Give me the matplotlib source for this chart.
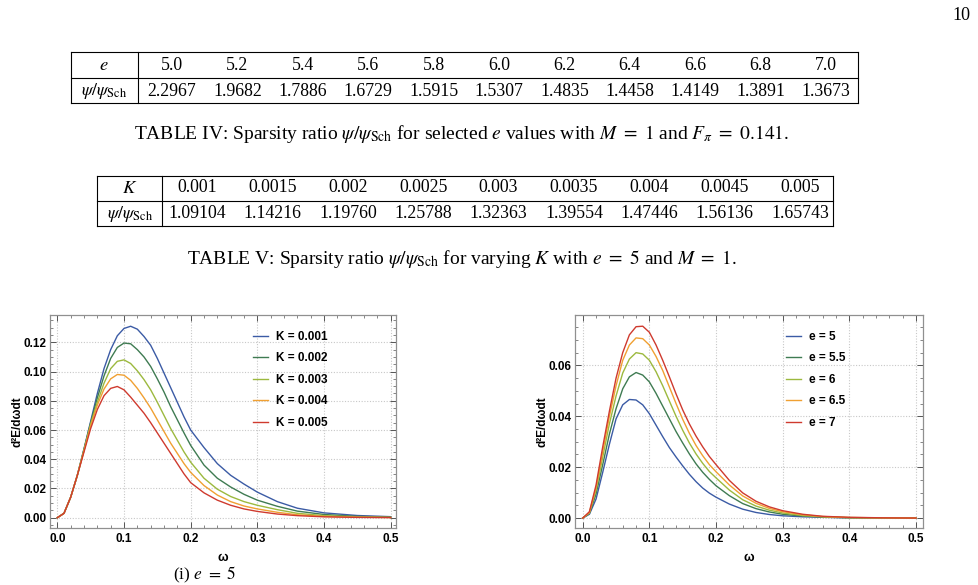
import numpy as np
import matplotlib
matplotlib.use("Agg")
import matplotlib.pyplot as plt
from matplotlib.lines import Line2D
from matplotlib.ticker import MultipleLocator, FormatStrFormatter

plt.rcParams['mathtext.fontset'] = 'stix'

# ---------------- data ----------------
e_vals = ["5.0", "5.2", "5.4", "5.6", "5.8", "6.0", "6.2", "6.4", "6.6", "6.8", "7.0"]
ratio_e = ["2.2967", "1.9682", "1.7886", "1.6729", "1.5915", "1.5307", "1.4835",
           "1.4458", "1.4149", "1.3891", "1.3673"]

k_vals = ["0.001", "0.0015", "0.002", "0.0025", "0.003", "0.0035", "0.004", "0.0045", "0.005"]
ratio_k = ["1.09104", "1.14216", "1.19760", "1.25788", "1.32363", "1.39554", "1.47446",
           "1.56136", "1.65743"]

omega = [0.00, 0.01, 0.02, 0.03, 0.04, 0.05, 0.06, 0.07, 0.08, 0.09, 0.10, 0.11, 0.12,
         0.13, 0.14, 0.15, 0.16, 0.17, 0.18, 0.19, 0.20, 0.22, 0.24, 0.26, 0.28, 0.30,
         0.33, 0.36, 0.40, 0.45, 0.50]

# panel (i): e = 5, varying K
k_labels = ["K = 0.001", "K = 0.002", "K = 0.003", "K = 0.004", "K = 0.005"]
k_curves = [
    [0, 0.003, 0.014, 0.029, 0.047, 0.066, 0.085, 0.102, 0.115, 0.1245, 0.1295, 0.131, 0.129,
     0.124, 0.118, 0.109, 0.099, 0.089, 0.079, 0.069, 0.060, 0.048, 0.037, 0.029, 0.023, 0.0175,
     0.011, 0.0065, 0.0033, 0.0015, 0.0007],
    [0, 0.003, 0.014, 0.029, 0.047, 0.065, 0.082, 0.097, 0.109, 0.1165, 0.1195, 0.119, 0.115,
     0.110, 0.1035, 0.095, 0.086, 0.076, 0.067, 0.058, 0.0495, 0.036, 0.027, 0.021, 0.016, 0.012,
     0.0078, 0.0045, 0.0022, 0.0009, 0.0004],
    [0, 0.003, 0.014, 0.029, 0.046, 0.064, 0.079, 0.092, 0.102, 0.107, 0.108, 0.1055, 0.1005,
     0.0945, 0.0875, 0.079, 0.070, 0.061, 0.053, 0.045, 0.038, 0.027, 0.0195, 0.0145, 0.011, 0.0085,
     0.0055, 0.003, 0.0014, 0.0005, 0.0002],
    [0, 0.003, 0.014, 0.029, 0.046, 0.063, 0.077, 0.088, 0.095, 0.098, 0.0975, 0.094, 0.0885,
     0.082, 0.075, 0.067, 0.059, 0.051, 0.044, 0.037, 0.031, 0.022, 0.0155, 0.011, 0.008, 0.006,
     0.0037, 0.002, 0.0009, 0.0003, 0.0001],
    [0, 0.003, 0.014, 0.029, 0.045, 0.061, 0.074, 0.0835, 0.0885, 0.0898, 0.0875, 0.0825, 0.077,
     0.0715, 0.065, 0.058, 0.051, 0.044, 0.037, 0.030, 0.024, 0.017, 0.012, 0.0085, 0.006, 0.0043,
     0.0025, 0.0014, 0.0006, 0.0002, 0.0001],
]

# panel (ii): varying e
e_labels = ["e = 5", "e = 5.5", "e = 6", "e = 6.5", "e = 7"]
e_curves = [
    [0, 0.0015, 0.0075, 0.018, 0.029, 0.039, 0.0445, 0.0466, 0.0464, 0.0445, 0.041, 0.0365, 0.032,
     0.0277, 0.024, 0.0205, 0.0172, 0.0143, 0.0118, 0.0098, 0.0082, 0.0055, 0.0035, 0.0022, 0.0014,
     0.0009, 0.0005, 0.0003, 0.0001, 0.00005, 0],
    [0, 0.0018, 0.0095, 0.021, 0.033, 0.043, 0.0508, 0.0555, 0.0572, 0.0562, 0.0535, 0.049, 0.044,
     0.039, 0.034, 0.0295, 0.0252, 0.0213, 0.018, 0.0152, 0.0127, 0.0088, 0.0057, 0.0037, 0.0024,
     0.0015, 0.0008, 0.0004, 0.0001, 0.00005, 0],
    [0, 0.002, 0.011, 0.024, 0.037, 0.048, 0.057, 0.0625, 0.065, 0.0645, 0.062, 0.0575, 0.052,
     0.046, 0.040, 0.0345, 0.0295, 0.0252, 0.0215, 0.0183, 0.0158, 0.011, 0.0072, 0.0047, 0.0031,
     0.002, 0.001, 0.0005, 0.0002, 0.0001, 0],
    [0, 0.0022, 0.012, 0.026, 0.040, 0.052, 0.062, 0.068, 0.0708, 0.0705, 0.068, 0.0635, 0.058,
     0.0515, 0.045, 0.0388, 0.0333, 0.0285, 0.0245, 0.021, 0.0182, 0.013, 0.0087, 0.0058, 0.0038,
     0.0025, 0.0013, 0.0006, 0.0002, 0.0001, 0],
    [0, 0.0025, 0.013, 0.028, 0.042, 0.055, 0.065, 0.072, 0.0752, 0.0754, 0.073, 0.068, 0.062,
     0.0555, 0.0488, 0.0425, 0.037, 0.0322, 0.028, 0.0242, 0.021, 0.0148, 0.0099, 0.0066, 0.0044,
     0.0029, 0.0015, 0.0007, 0.0003, 0.0001, 0],
]

colors = ["#3b5ba5", "#3f7b52", "#9cb93e", "#f0a032", "#cf3a2e"]

W, H = 979, 585
fig = plt.figure(figsize=(W / 100, H / 100), dpi=100)

def fx(x):
    return x / W

def fy(y):
    return 1 - y / H

serif = "Liberation Serif"
sans = "Liberation Sans"
tsize = 12.8   # table text
csize = 14.0   # captions

def hline(x0, x1, y):
    fig.add_artist(Line2D([fx(x0), fx(x1)], [fy(y), fy(y)], color="black", lw=0.8))

def vline(x, y0, y1):
    fig.add_artist(Line2D([fx(x), fx(x)], [fy(y0), fy(y1)], color="black", lw=0.8))

# page number
fig.text(fx(961), fy(15), "10", family=serif, fontsize=13, ha="center", va="center")

# ---------------- table IV ----------------
left, right, sep = 71, 858, 138
top, mid, bot = 52, 78, 103
hline(left, right, top); hline(left, right, mid); hline(left, right, bot)
vline(left, top, bot); vline(right, top, bot); vline(sep, top, bot)
fig.text(fx(104), fy(65), r"$e$", fontsize=tsize + 0.5, ha="center", va="center")
fig.text(fx(104), fy(91), r"$\psi/\psi_{\rm Sch}$", fontsize=tsize, ha="center", va="center")
for i, (a, b) in enumerate(zip(e_vals, ratio_e)):
    cx = 172 + i * 65.4
    fig.text(fx(cx), fy(65), a, family=serif, fontsize=tsize, ha="center", va="center")
    fig.text(fx(cx), fy(91), b, family=serif, fontsize=tsize, ha="center", va="center")

fig.text(fx(462), fy(134),
         r"TABLE IV: Sparsity ratio $\psi/\psi_{\rm Sch}$ for selected $e$ values with $M\ =\ 1$ and $F_\pi\ =\ 0.141$.",
         family=serif, fontsize=csize, ha="center", va="center")

# ---------------- table V ----------------
left, right, sep = 97, 833, 162
top, mid, bot = 176, 201, 226
hline(left, right, top); hline(left, right, mid); hline(left, right, bot)
vline(left, top, bot); vline(right, top, bot); vline(sep, top, bot)
fig.text(fx(130), fy(188), r"$K$", fontsize=tsize + 0.5, ha="center", va="center")
fig.text(fx(130), fy(214), r"$\psi/\psi_{\rm Sch}$", fontsize=tsize, ha="center", va="center")
for i, (a, b) in enumerate(zip(k_vals, ratio_k)):
    cx = 197 + i * 75.4
    fig.text(fx(cx), fy(188), a, family=serif, fontsize=tsize, ha="center", va="center")
    fig.text(fx(cx), fy(214), b, family=serif, fontsize=tsize, ha="center", va="center")

fig.text(fx(462), fy(259),
         r"TABLE V: Sparsity ratio $\psi/\psi_{\rm Sch}$ for varying $K$ with $e\ =\ 5$ and $M\ =\ 1$.",
         family=serif, fontsize=csize, ha="center", va="center")

# ---------------- plots ----------------
def style_axes(ax, xlim, ylim):
    ax.set_xlim(*xlim)
    ax.set_ylim(*ylim)
    ax.xaxis.set_major_locator(MultipleLocator(0.1))
    ax.xaxis.set_minor_locator(MultipleLocator(0.02))
    ax.yaxis.set_major_locator(MultipleLocator(0.02))
    ax.yaxis.set_minor_locator(MultipleLocator(0.005))
    ax.xaxis.set_major_formatter(FormatStrFormatter("%.1f"))
    ax.yaxis.set_major_formatter(FormatStrFormatter("%.2f"))
    ax.grid(True, which="major", color="#c8c8c8", lw=0.8, ls=(0, (1, 1.5)))
    ax.tick_params(which="both", direction="in", top=True, right=True, color="#555555",
                   labelsize=8.5)
    ax.tick_params(axis="y", pad=2.5)
    ax.tick_params(axis="x", pad=3.5)
    ax.tick_params(which="major", length=4, width=0.7)
    ax.tick_params(which="minor", length=2.2, width=0.5)
    for s in ax.spines.values():
        s.set_color("#909090")
        s.set_linewidth(0.9)
    for lab in ax.get_xticklabels() + ax.get_yticklabels():
        lab.set_family(sans)
        lab.set_fontweight("bold")
    ax.set_xlabel("ω", family=sans, fontweight="bold", fontsize=9, labelpad=5)
    ax.set_ylabel("d²E/dωdt", family=sans, fontweight="bold", fontsize=8.5, labelpad=0)

def add_legend(ax, x_anchor):
    ax.legend(loc="upper left", bbox_to_anchor=(x_anchor, 1 - (331 - 315) / 213),
              frameon=False, handlelength=1.3, handletextpad=0.7, labelspacing=0.8,
              borderaxespad=0, borderpad=0,
              prop={"family": sans, "weight": "bold", "size": 8.5})

ax1 = fig.add_axes([fx(50), fy(528), fx(346), 213 / H])
for ys, c, lab in zip(k_curves, colors, k_labels):
    ax1.plot(omega, ys, color=c, lw=1.0, label=lab, solid_joinstyle="round")
style_axes(ax1, (-0.011, 0.508), (-0.00705, 0.1387))
add_legend(ax1, (256 - 50) / 346 - 0.01)

ax2 = fig.add_axes([fx(575), fy(528), fx(348), 213 / H])
for ys, c, lab in zip(e_curves, colors, e_labels):
    ax2.plot(omega, ys, color=c, lw=1.0, label=lab, solid_joinstyle="round")
style_axes(ax2, (-0.0116, 0.5105), (-0.0039, 0.0798))
add_legend(ax2, (789 - 575) / 348 - 0.01)

fig.text(fx(205), fy(579), r"(i) $e\ =\ 5$", family=serif, fontsize=12.5, ha="center", va="baseline")

fig.savefig("out.png", dpi=100)
